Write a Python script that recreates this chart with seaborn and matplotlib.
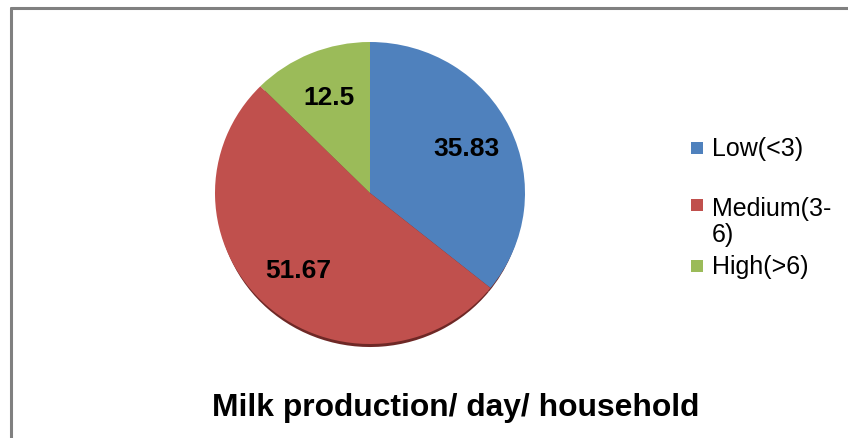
import matplotlib
matplotlib.use("Agg")
import matplotlib.pyplot as plt
import seaborn as sns
from matplotlib.lines import Line2D
from matplotlib.patches import Rectangle

categories = ["Low(<3)", "Medium(3-\n6)", "High(>6)"]
values = [35.83, 51.67, 12.5]
colors = ["#4F81BD", "#C0504D", "#9BBB59"]
shadow_colors = ["#6e2826", "#6e2826", "#6e2826"]
title = "Milk production/ day/ household"

sns.set_theme(style="white")
plt.rcParams["font.family"] = ["Liberation Sans", "DejaVu Sans"]

W, H = 848, 439
fig = plt.figure(figsize=(W / 100, H / 100), dpi=100)
fig.patch.set_facecolor("white")

cx, cy, rx, ry = 370, 194, 155, 151
ax = fig.add_axes([(cx - rx) / W, (H - cy - ry) / H, 2 * rx / W, 2 * ry / H])

# shadow
ax.pie(values, colors=shadow_colors, startangle=90, counterclock=False,
       center=(0.0, -0.035), radius=0.985, wedgeprops=dict(linewidth=0),
       frame=True)
wedges, texts, autotexts = ax.pie(
    values, colors=colors, startangle=90, counterclock=False,
    radius=1.0, wedgeprops=dict(linewidth=0),
    autopct=lambda p: f"{round(p, 2):g}", pctdistance=0.69, frame=True,
    textprops=dict(fontsize=19, fontweight="bold", color="black"))
ax.set_xlim(-1, 1)
ax.set_ylim(-1, 1)
ax.set_aspect("auto")
ax.axis("off")

# legend (manual layout to mimic Excel)
leg_y = [149, 206, 267]
text_y = [149, 222, 267]
for lab, col, y, ty in zip(categories, colors, leg_y, text_y):
    fig.add_artist(Rectangle((691 / W, (H - y - 6) / H), 12 / W, 12 / H,
                             transform=fig.transFigure, facecolor=col,
                             edgecolor="none"))
    fig.text(712 / W, (H - ty) / H, lab, fontsize=18, va="center",
             ha="left", color="black", linespacing=1.15)

fig.text(456 / W, (H - 408) / H, title, fontsize=22.9, fontweight="bold",
         ha="center", va="center", color="black")

# chart border
fig.add_artist(Line2D([11 / W, 1.0], [(H - 9) / H, (H - 9) / H],
                      transform=fig.transFigure, color="#808080", linewidth=2.2))
fig.add_artist(Line2D([11 / W, 11 / W], [0.0, (H - 9) / H],
                      transform=fig.transFigure, color="#808080", linewidth=2.2))

fig.savefig("out.png", dpi=100, facecolor="white")
